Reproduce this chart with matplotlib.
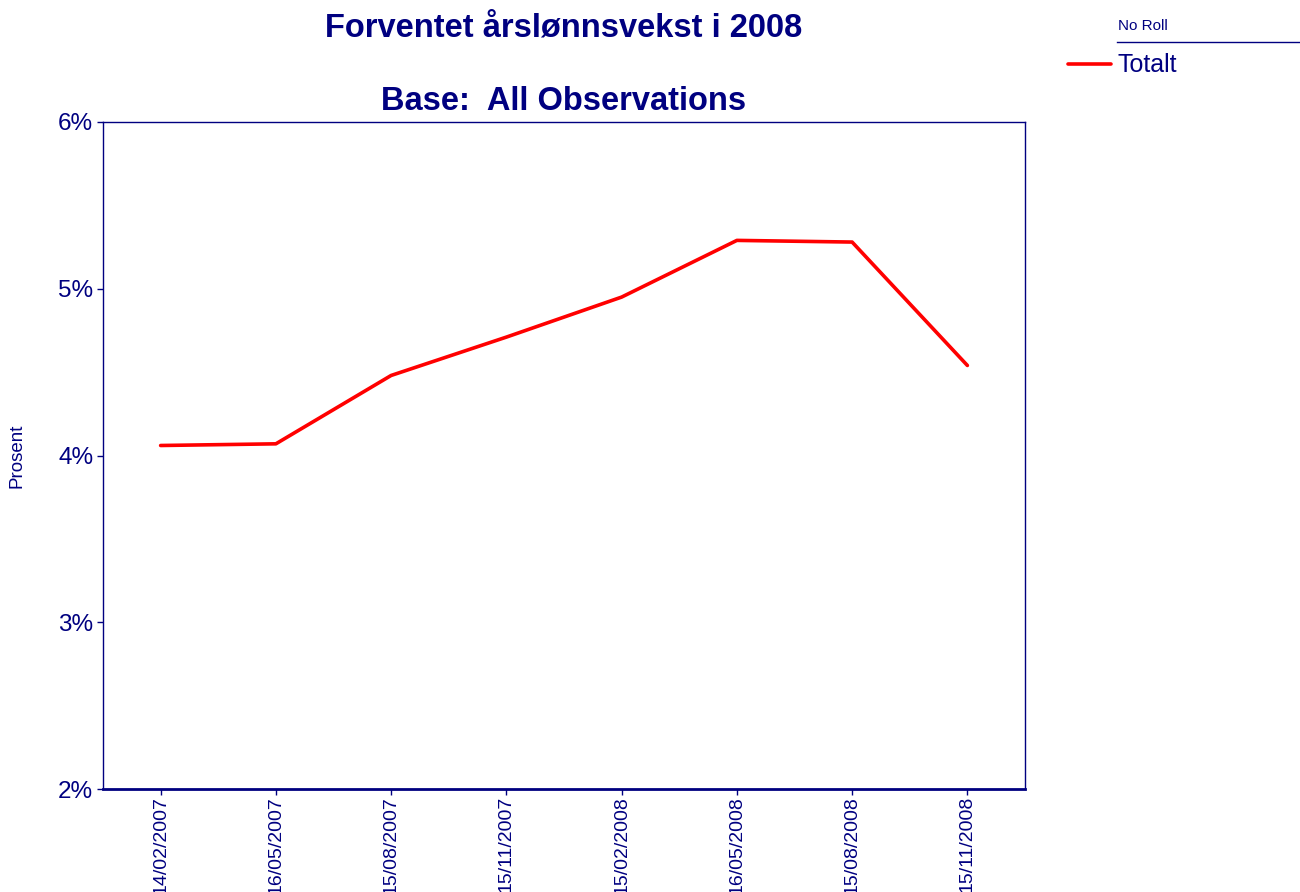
import matplotlib.pyplot as plt
from matplotlib.lines import Line2D

plt.rcParams['font.family'] = ['Liberation Sans', 'DejaVu Sans']

NAVY = '#000080'

dates = ['14/02/2007', '16/05/2007', '15/08/2007', '15/11/2007',
         '15/02/2008', '16/05/2008', '15/08/2008', '15/11/2008']
totalt = [4.06, 4.07, 4.48, 4.71, 4.95, 5.29, 5.28, 4.54]
y_ticks = [2, 3, 4, 5, 6]

fig = plt.figure(figsize=(13, 8.92), dpi=100)
ax = fig.add_axes([103 / 1300, 1 - 789 / 892, 922 / 1300, 667 / 892])

x = list(range(len(dates)))
ax.plot(x, totalt, color='#ff0000', linewidth=2.6, solid_capstyle='round')

ax.set_xlim(-0.5, len(dates) - 0.5)
ax.set_ylim(2, 6)
ax.set_yticks(y_ticks)
ax.set_yticklabels(['%d%%' % v for v in y_ticks], fontsize=17.5, color=NAVY)
ax.set_xticks(x)
ax.set_xticklabels(dates, rotation=90, fontsize=14, color=NAVY, va='top')
ax.tick_params(axis='both', colors=NAVY, length=4, width=1)
ax.tick_params(axis='x', pad=1)
ax.tick_params(axis='y', pad=3)
for side in ['left', 'right', 'top']:
    ax.spines[side].set_color(NAVY)
    ax.spines[side].set_linewidth(1)
ax.spines['bottom'].set_color(NAVY)
ax.spines['bottom'].set_linewidth(2)

ax.set_ylabel('Prosent', fontsize=13.5, color=NAVY)
ax.yaxis.set_label_coords(-77 / 922, 0.5)

fig.text(564 / 1300, 1 - 28 / 892, 'Forventet årslønnsvekst i 2008',
         ha='center', va='center', fontsize=23.5, fontweight='bold', color=NAVY)
fig.text(564 / 1300, 1 - 102 / 892, 'Base:  All Observations',
         ha='center', va='center', fontsize=23.5, fontweight='bold', color=NAVY)

# legend
fig.text(1118 / 1300, 1 - 26 / 892, 'No Roll', ha='left', va='center',
         fontsize=11, color=NAVY)
fig.add_artist(Line2D([1117 / 1300, 1], [1 - 42 / 892, 1 - 42 / 892],
                      transform=fig.transFigure, color=NAVY, linewidth=1))
fig.add_artist(Line2D([1068 / 1300, 1111 / 1300], [1 - 64 / 892, 1 - 64 / 892],
                      transform=fig.transFigure, color='#ff0000', linewidth=2.6,
                      solid_capstyle='round'))
fig.text(1118 / 1300, 1 - 65 / 892, 'Totalt', ha='left', va='center',
         fontsize=18, color=NAVY)

fig.savefig('out.png', dpi=100)
